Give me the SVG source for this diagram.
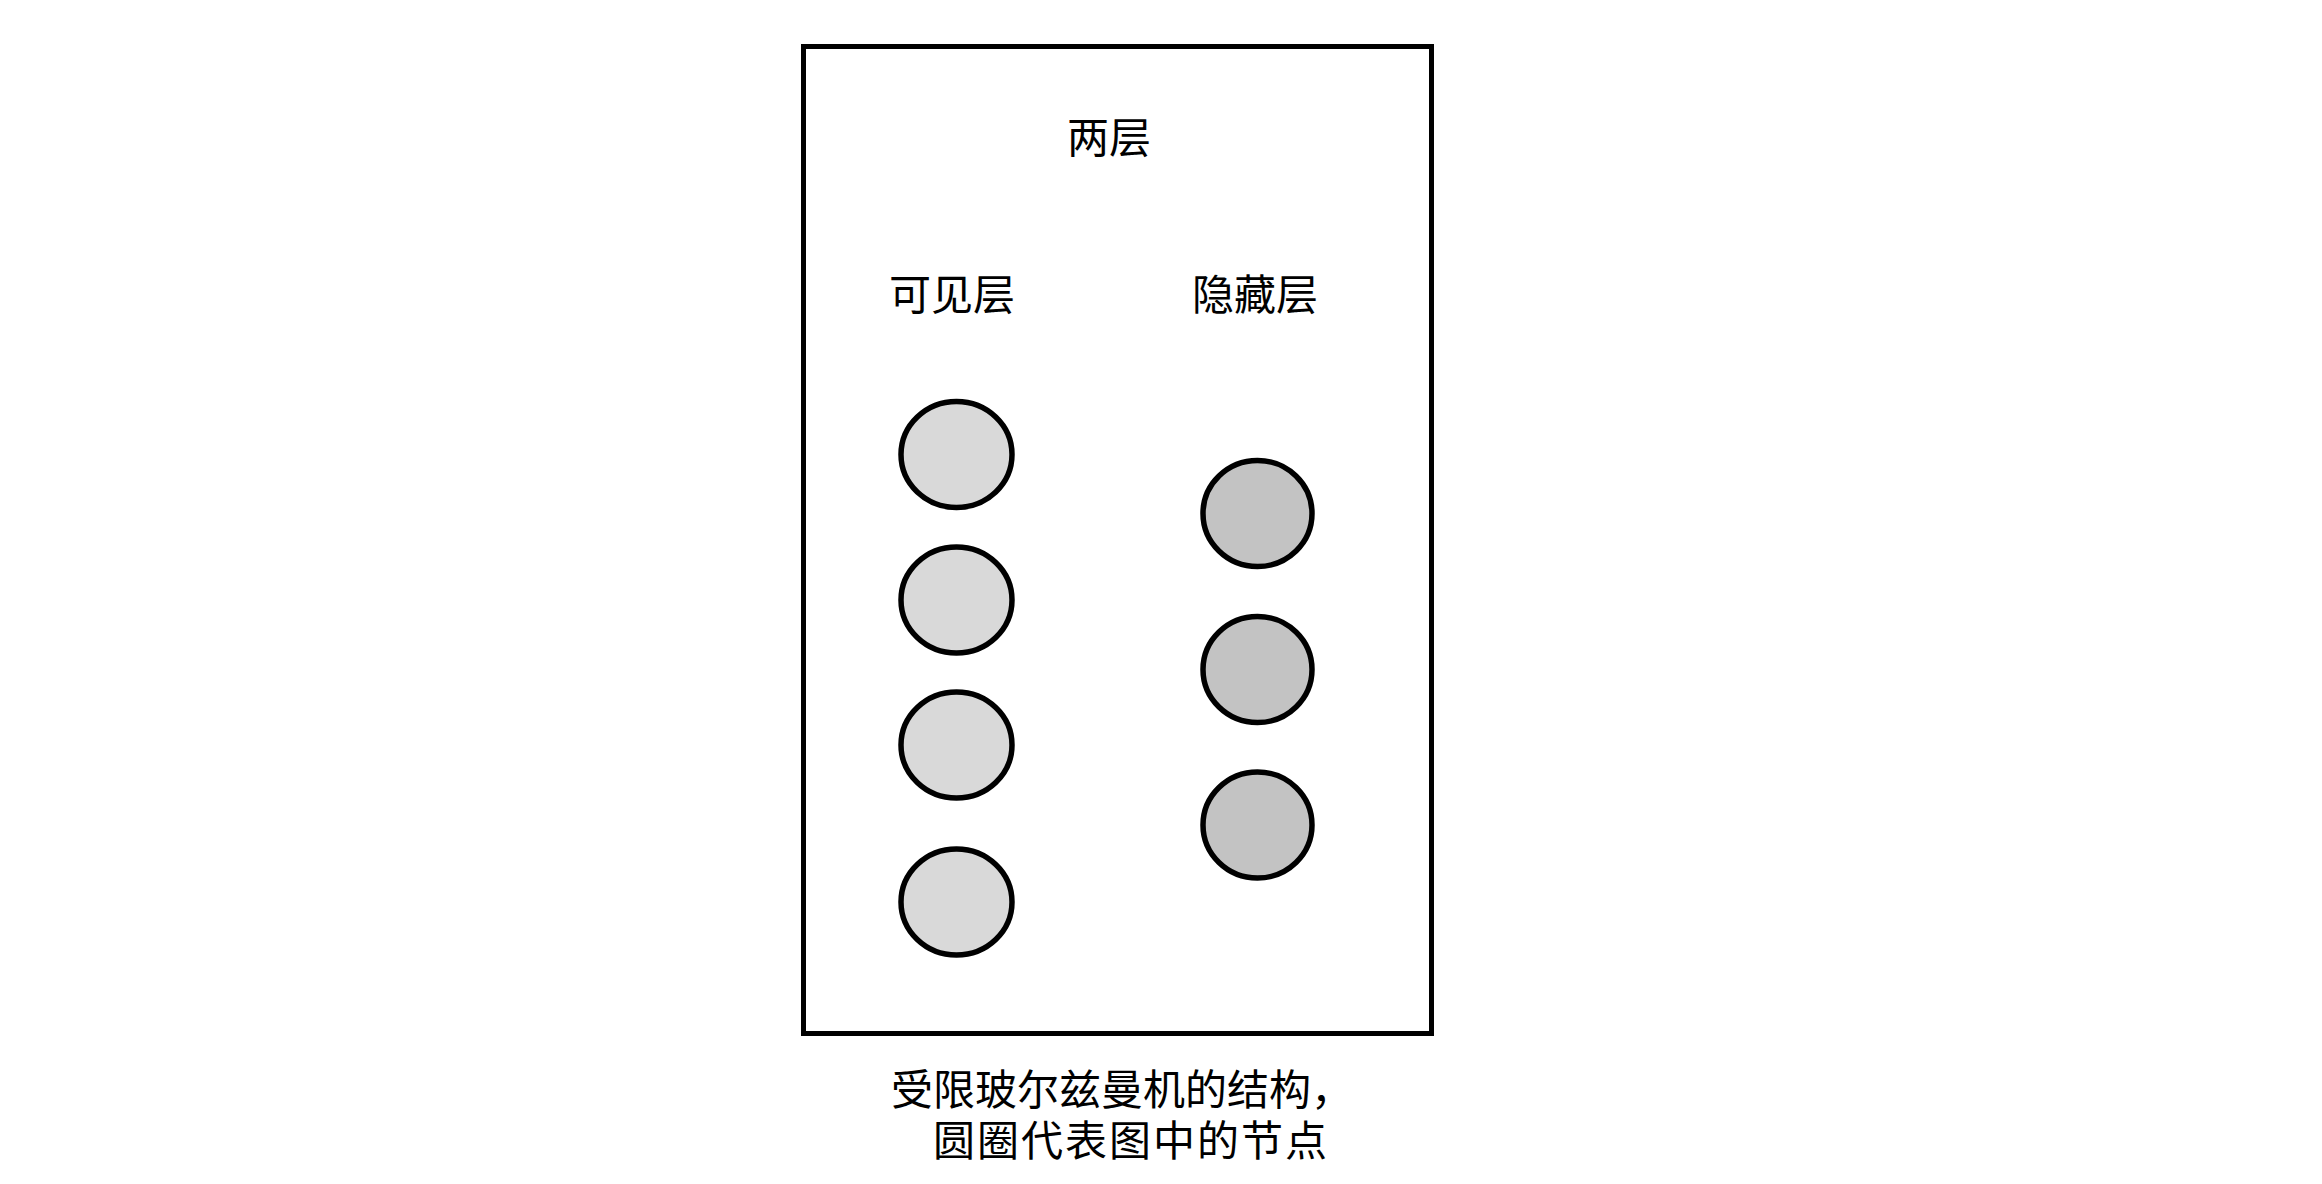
<svg xmlns="http://www.w3.org/2000/svg" width="2322" height="1184" viewBox="0 0 2322 1184">
  <style>
    .frame { fill: #ffffff; stroke: #000000; stroke-width: 5; }
    .visible { fill: #d9d9d9; stroke: #000000; stroke-width: 5.5; }
    .hidden { fill: #c3c3c3; stroke: #000000; stroke-width: 5.5; }
    .label { font-family: "Liberation Serif", "Noto Sans CJK SC", serif; font-size: 42px; fill: #000000; }
    .mid { text-anchor: middle; }
  </style>
  <rect width="2322" height="1184" fill="#ffffff"/>
  <g id="frame">
    <rect class="frame" x="803.5" y="46.5" width="628" height="987"/>
    <text class="label mid" x="1109" y="153">两层</text>
  </g>
  <g id="visible-layer">
    <text class="label mid" x="952" y="310">可见层</text>
    <g id="v1"><ellipse class="visible" cx="956.5" cy="454.5" rx="55.5" ry="53"/></g>
    <g id="v2"><ellipse class="visible" cx="956.5" cy="600" rx="55.5" ry="53"/></g>
    <g id="v3"><ellipse class="visible" cx="956.5" cy="745" rx="55.5" ry="53"/></g>
    <g id="v4"><ellipse class="visible" cx="956.5" cy="902" rx="55.5" ry="53"/></g>
  </g>
  <g id="hidden-layer">
    <text class="label mid" x="1255" y="310">隐藏层</text>
    <g id="h1"><ellipse class="hidden" cx="1257.5" cy="513.5" rx="54.5" ry="53"/></g>
    <g id="h2"><ellipse class="hidden" cx="1257.5" cy="669.5" rx="54.5" ry="53"/></g>
    <g id="h3"><ellipse class="hidden" cx="1257.5" cy="825" rx="54.5" ry="53"/></g>
  </g>
  <g id="connectors"/>
  <g id="caption">
    <text class="label" x="891" y="1105">受限玻尔兹曼机的结构，</text>
    <text class="label" x="933" y="1156" letter-spacing="2">圆圈代表图中的节点</text>
  </g>
</svg>
